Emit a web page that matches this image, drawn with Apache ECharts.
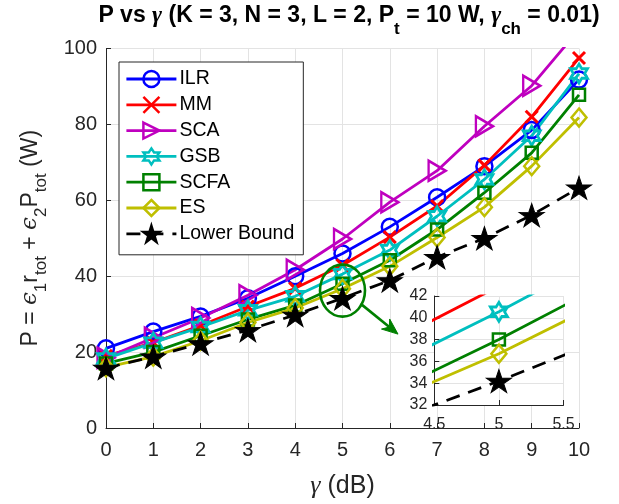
<!DOCTYPE html>
<html><head><meta charset="utf-8">
<script src="https://cdn.jsdelivr.net/npm/echarts@6/dist/echarts.min.js"></script>
<style>html,body{margin:0;padding:0;background:#fff}#c{width:619px;height:504px}</style>
</head><body><div id="c"></div>
<script>
// ---- data ----
const gammaDB = [0, 1, 2, 3, 4, 5, 6, 7, 8, 9, 10];
const ILR  = [21.0, 25.4, 29.4, 34.2, 40.0, 46.0, 53.0, 60.8, 69.0, 78.5, 91.8];
const MM   = [19.0, 22.5, 27.0, 32.0, 36.8, 42.9, 50.3, 58.5, 69.2, 82.0, 97.5];
const SCA  = [18.5, 23.8, 29.0, 35.0, 41.7, 49.8, 59.5, 67.8, 79.5, 90.2, 105.0];
const GSB  = [18.3, 22.5, 26.6, 31.0, 34.7, 40.55, 46.9, 55.8, 65.5, 77.0, 93.4];
const SCFA = [17.0, 20.0, 24.3, 28.6, 32.3, 38.0, 44.2, 52.3, 62.0, 72.5, 87.8];
const ES   = [16.0, 18.8, 23.0, 27.8, 31.6, 36.7, 42.6, 50.2, 58.2, 69.0, 81.8];
const LB   = [15.8, 18.8, 22.3, 25.8, 29.8, 34.2, 38.9, 45.0, 50.0, 56.1, 63.3];
const seriesNames = ['ILR', 'MM', 'SCA', 'GSB', 'SCFA', 'ES', 'Lower Bound'];
const seriesValues = [ILR, MM, SCA, GSB, SCFA, ES, LB];
const mainXTicks = { min: 0, max: 10, step: 1 };
const mainYTicks = { min: 0, max: 100, step: 20 };
const insetXTicks = { min: 4.5, max: 5.5, step: 0.5 };
const insetYTicks = { min: 32, max: 42, step: 2 };
const zoomPoint = [5, 36.2];

// ---- styles ----
const FONT = '"Liberation Sans", Arial, Helvetica, sans-serif';
const AX = '#262626';
const GRIDC = '#e3e3e3';
const SYM_X = 'path://M0,0L10,10M10,0L0,10';
const SYM_TRI = 'path://M0,0L10,5L0,10Z';
const SYM_HEX = 'path://M100,0L128.9,50L186.6,50L157.7,100L186.6,150L128.9,150L100,200L71.1,150L13.4,150L42.3,100L13.4,50L71.1,50Z';
const SYM_PENT = 'path://M100,0L122.45,69.1L195.1,69.1L136.3,111.8L158.8,180.9L100,138.2L41.2,180.9L63.7,111.8L4.9,69.1L77.55,69.1Z';
const styles = [
  { color: '#0000ff', symbol: 'circle', size: 16, fill: 'rgba(0,0,0,0)', bw: 2.5 },
  { color: '#ff0000', symbol: SYM_X, size: 12, fill: 'rgba(0,0,0,0)', bw: 3 },
  { color: '#bf00bf', symbol: SYM_TRI, size: [17, 20], fill: 'rgba(0,0,0,0)', bw: 2.5 },
  { color: '#00bfbf', symbol: SYM_HEX, size: [17, 19], fill: 'rgba(0,0,0,0)', bw: 2.8 },
  { color: '#008000', symbol: 'rect', size: 12, fill: 'rgba(0,0,0,0)', bw: 2.5 },
  { color: '#bfbf00', symbol: 'diamond', size: [15, 18], fill: 'rgba(0,0,0,0)', bw: 2.5 },
  { color: '#000000', symbol: SYM_PENT, size: [25, 23], fill: '#000000', bw: 1, dash: [14, 9] }
];

function makeSeries(gridIdx, z) {
  return seriesNames.map((name, i) => {
    const st = styles[i];
    return {
      name: name, type: 'line', xAxisIndex: gridIdx, yAxisIndex: gridIdx, z: z,
      data: gammaDB.map((x, k) => [x, seriesValues[i][k]]),
      symbol: st.symbol, symbolSize: st.size, showAllSymbol: true, clip: true,
      lineStyle: { color: st.color, width: 2.8, type: st.dash || 'solid' },
      itemStyle: { color: st.fill, borderColor: st.color, borderWidth: st.bw },
      emphasis: { disabled: true }, animation: false
    };
  });
}

const chart = echarts.init(document.getElementById('c'), null, { renderer: 'canvas' });
const axisCommon = (fs) => ({
  axisLine: { show: true, onZero: false, lineStyle: { color: AX, width: 1 } },
  axisTick: { show: true, inside: true, length: 5, lineStyle: { color: AX } },
  axisLabel: { color: AX, fontSize: fs, fontFamily: FONT },
  splitLine: { show: true, lineStyle: { color: GRIDC, width: 1 } }
});

chart.setOption({
  animation: false,
  backgroundColor: '#fff',
  title: {
    text: '{b|P vs }{g|γ}{b| (K = 3, N = 3, L = 2, P}{s|t}{b| = 10 W, }{g|γ}{s|ch}{b| = 0.01)}',
    left: 349, top: 4, padding: 0, textAlign: 'center',
    textStyle: {
      rich: {
        b: { fontSize: 23, fontWeight: 'bold', fontFamily: FONT, color: '#000', lineHeight: 23, verticalAlign: 'top' },
        g: { fontSize: 24, fontStyle: 'italic', fontFamily: '"Liberation Serif", serif', color: '#000', lineHeight: 23, verticalAlign: 'top' },
        s: { fontSize: 17, fontWeight: 'bold', fontFamily: FONT, color: '#000', lineHeight: 17, padding: [17, 0, 0, 0], verticalAlign: 'top' }
      }
    }
  },
  legend: {
    data: seriesNames, orient: 'vertical', left: 119, top: 62,
    padding: [7, 9, 11, 6], itemGap: 5.8, itemWidth: 50, itemHeight: 20,
    backgroundColor: '#fff', borderColor: AX, borderWidth: 1,
    textStyle: { fontSize: 19.5, fontFamily: FONT, color: '#000', lineHeight: 20, padding: [0, 0, 0, -2] },
    itemStyle: { borderWidth: 2.5 },
    lineStyle: { width: 2.8 },
    selectedMode: false, z: 10
  },
  grid: [
    { left: 106, right: 40, top: 48.5, bottom: 72.7, containLabel: false },
    { left: 434.3, right: 55.5, top: 296, bottom: 99, containLabel: false, show: true, backgroundColor: '#fff', borderWidth: 0, z: 5 }
  ],
  xAxis: [
    Object.assign({ type: 'value', gridIndex: 0, min: mainXTicks.min, max: mainXTicks.max, interval: mainXTicks.step,
      name: '{g|γ}{m| (dB)}', nameLocation: 'middle', nameGap: 45,
      nameTextStyle: { rich: {
        g: { fontSize: 26, fontFamily: '"Liberation Serif", serif', fontStyle: 'italic', color: AX },
        m: { fontSize: 25, fontFamily: FONT, color: AX } } } }, axisCommon(20),
      { axisLabel: { color: AX, fontSize: 20, fontFamily: FONT, margin: 12 } }),
    Object.assign({ type: 'value', gridIndex: 1, min: insetXTicks.min, max: insetXTicks.max, interval: insetXTicks.step, z: 6 },
      axisCommon(16), { axisLabel: { color: AX, fontSize: 16, fontFamily: FONT, margin: 12 } })
  ],
  yAxis: [
    Object.assign({ type: 'value', gridIndex: 0, min: mainYTicks.min, max: mainYTicks.max, interval: mainYTicks.step,
      name: '{m|P = }{e|ϵ}{s|1}{m|r}{s|tot}{m| + }{e|ϵ}{s|2}{m|P}{s|tot}{m| (W)}',
      nameLocation: 'middle', nameGap: 64, nameRotate: 90,
      nameTextStyle: { rich: {
        m: { fontSize: 23, fontFamily: FONT, color: AX, lineHeight: 23, verticalAlign: 'top' },
        e: { fontSize: 23, fontFamily: '"DejaVu Serif", serif', fontStyle: 'italic', color: AX, lineHeight: 23, verticalAlign: 'top' },
        s: { fontSize: 17, fontFamily: FONT, color: AX, lineHeight: 17, padding: [14, 0, 0, 0], verticalAlign: 'top' } } } },
      axisCommon(20), { axisLabel: { color: AX, fontSize: 20, fontFamily: FONT, margin: 9 } }),
    Object.assign({ type: 'value', gridIndex: 1, min: insetYTicks.min, max: insetYTicks.max, interval: insetYTicks.step, z: 6 },
      axisCommon(16), { axisLabel: { color: AX, fontSize: 16, fontFamily: FONT, margin: 7 } })
  ],
  series: makeSeries(0, 2).concat(makeSeries(1, 7))
});

// annotation: zoom ellipse + arrow, anchored to the data point through the axes
const c = chart.convertToPixel({ gridIndex: 0 }, zoomPoint);
const x0 = c[0], y0 = c[1];
const sx = x0 + 18, sy = y0 + 13;           // start on ellipse edge
const tx = x0 + 55.5, ty = y0 + 43.5;       // arrow tip
const ang = Math.atan2(ty - sy, tx - sx);
const hl = 16, hw = 6.5;
const bx = tx - hl * Math.cos(ang), by = ty - hl * Math.sin(ang);
const nx = -Math.sin(ang), ny = Math.cos(ang);
const notchX = tx - hl * 0.7 * Math.cos(ang), notchY = ty - hl * 0.7 * Math.sin(ang);
chart.setOption({
  graphic: [
    { type: 'ellipse', shape: { cx: x0, cy: y0, rx: 22.5, ry: 26 }, style: { fill: 'none', stroke: '#008000', lineWidth: 2.6 }, z: 20, silent: true },
    { type: 'line', shape: { x1: sx, y1: sy, x2: notchX, y2: notchY }, style: { stroke: '#008000', lineWidth: 2.6 }, z: 20, silent: true },
    { type: 'polygon', shape: { points: [[tx, ty], [bx + nx * hw, by + ny * hw], [notchX, notchY], [bx - nx * hw, by - ny * hw]] },
      style: { fill: '#008000', stroke: '#008000', lineWidth: 1 }, z: 20, silent: true }
  ]
});
</script></body></html>
